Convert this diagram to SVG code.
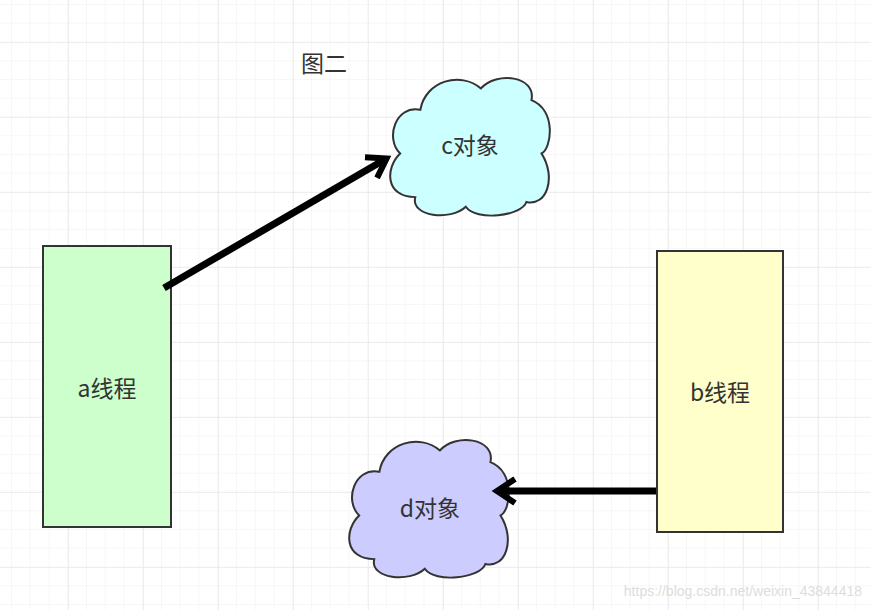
<svg xmlns="http://www.w3.org/2000/svg" width="871" height="610" viewBox="0 0 871 610">
<defs>
<pattern id="minor" width="18.75" height="18.75" patternUnits="userSpaceOnUse" x="11" y="4"><path d="M0,0 H18.75 M0,0 V18.75" stroke="#efefef" stroke-width="1" fill="none"/></pattern>
<pattern id="major" width="75" height="75" patternUnits="userSpaceOnUse" x="68" y="42"><path d="M0,0 H75 M0,0 V75" stroke="#e2e2e2" stroke-width="1" fill="none"/></pattern>
<path id="cloud" d="M30,130 C0,130 0,100 15,85 C0,70 10,35 35,40 C40,10 75,0 95,18 C110,0 150,5 145,30 C170,40 165,80 155,85 C170,110 160,140 140,135 C135,150 90,155 80,140 C65,155 25,150 30,130 Z"/>
<marker id="arr" markerUnits="userSpaceOnUse" markerWidth="30" markerHeight="30" refX="14" refY="10" orient="auto" viewBox="0 0 20 20"><path d="M4,2 L16,10 L4,18" fill="none" stroke="#000" stroke-width="4"/></marker>
</defs>
<style>
.t{font-family:"Microsoft YaHei","Noto Sans CJK SC",sans-serif;font-size:23px;fill:#333;text-anchor:middle;dominant-baseline:central}
.n{stroke:#333;stroke-width:2}
</style>
<rect width="871" height="610" fill="#fff"/>
<rect width="871" height="610" fill="url(#minor)"/>
<rect width="871" height="610" fill="url(#major)"/>
<text class="t" x="324" y="62">图二</text>
<g id="a"><rect class="n" x="43" y="246" width="128" height="281" fill="#ccffcc"/><text class="t" x="107" y="387">a线程</text></g>
<g id="b"><rect class="n" x="657" y="251" width="126" height="281" fill="#ffffcc"/><text class="t" x="720" y="391">b线程</text></g>
<g id="c"><use href="#cloud" class="n" fill="#ccffff" transform="translate(385,71) scale(1.01,0.97)"/><text class="t" x="470" y="144">c对象</text></g>
<g id="d"><use href="#cloud" class="n" fill="#ccccff" transform="translate(344,433) scale(1.01,0.97)"/><text class="t" x="430" y="507">d对象</text></g>
<g id="connectors" fill="none" stroke="#000" stroke-width="7">
<path d="M164,288 L384,160" marker-end="url(#arr)"/>
<path d="M656,491 L500,491" marker-end="url(#arr)"/>
</g>
<text x="862" y="596" font-family="Liberation Sans,sans-serif" font-size="14" fill="#ddd" text-anchor="end">https://blog.csdn.net/weixin_43844418</text>
</svg>
